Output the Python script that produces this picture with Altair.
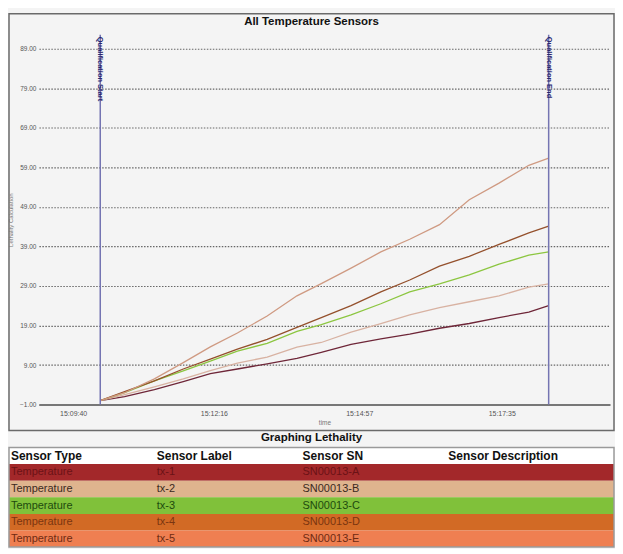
import altair as alt
import pandas as pd

# ---------------- data ----------------
times = [54610, 54637, 54670, 54702, 54732, 54762, 54795, 54828, 54855,
         54888, 54921, 54953, 54986, 55019, 55052, 55085, 55107]
tx1 = [0, 1.0, 2.8, 4.8, 6.8, 8.0, 9.3, 10.7, 12.2, 14.2, 15.6, 16.8, 18.3, 19.5, 21.0, 22.4, 24.0]
tx2 = [0, 1.5, 3.5, 5.5, 7.6, 9.5, 11.0, 13.5, 14.7, 17.3, 19.5, 21.7, 23.5, 25.0, 26.5, 28.7, 29.5]
tx3 = [0, 2.0, 5.0, 7.5, 10.0, 12.5, 14.5, 17.5, 19.2, 21.7, 24.5, 27.5, 29.5, 31.8, 34.5, 36.8, 37.6]
tx4 = [0, 2.3, 5.0, 8.0, 10.5, 13.0, 15.5, 18.5, 21.0, 24.0, 27.5, 30.5, 34.0, 36.5, 39.5, 42.4, 44.1]
tx5 = [0, 2.0, 5.5, 9.6, 13.6, 17.1, 21.4, 26.5, 29.6, 33.5, 37.6, 40.8, 44.5, 50.8, 55.0, 59.5, 61.3]

sensor_labels = ["tx-1", "tx-2", "tx-3", "tx-4", "tx-5"]
sensor_types = ["Temperature"] * 5
sensor_sns = ["SN00013-A", "SN00013-B", "SN00013-C", "SN00013-D", "SN00013-E"]
sensor_desc = ["", "", "", "", ""]
header_cols = ["Sensor Type", "Sensor Label", "Sensor SN", "Sensor Description"]

line_colors = ["#6e2638", "#d8b2a2", "#8cc640", "#94502c", "#cf9a82"]
row_colors = ["#a3282a", "#dfb48e", "#80c13a", "#d26a25", "#ef7f51"]
row_text_colors = ["#6b1216", "#3a2a1e", "#1e4a0e", "#7a3510", "#6e2a12"]

y_ticks = [-1, 9, 19, 29, 39, 49, 59, 69, 79, 89]
x_ticks = [54580, 54736, 54897, 55055]  # 15:09:40, 15:12:16, 15:14:57, 15:17:35
qual_times = [54610, 55107]
qual_labels = ["Qualification Start", "Qualification End"]

series = dict(zip(sensor_labels, [tx1, tx2, tx3, tx4, tx5]))
long_rows = []
for lab in sensor_labels:
    for t, v in zip(times, series[lab]):
        long_rows.append({"sensor": lab, "t": t, "v": v})
df = pd.DataFrame(long_rows)
qual_df = pd.DataFrame({"t": qual_times, "label": qual_labels})

# table cells (row index, column index)
row_ids = ["header"] + sensor_labels
cells = []
for c, h in enumerate(header_cols):
    cells.append({"row": "header", "ri": 0, "ci": c, "text": h, "kind": "header"})
for i, lab in enumerate(sensor_labels):
    vals = [sensor_types[i], lab, sensor_sns[i], sensor_desc[i]]
    for c, v in enumerate(vals):
        cells.append({"row": lab, "ri": i + 1, "ci": c, "text": v, "kind": "body"})
cells_df = pd.DataFrame(cells)
rows_df = pd.DataFrame({"row": row_ids, "ri": list(range(len(row_ids)))})

# ---------------- layout ----------------
W, H = 573, 371
FONT = "Liberation Sans"
FL, FR, FT, FB = -30, W + 4, -21, H + 26   # outer frame around the plot
TT, TB = 414, 514                          # table top / bottom
TSPAN = 4.15                               # table column span on its scale

x_scale = alt.Scale(domain=[54542, 55175], nice=False, zero=False)
y_scale = alt.Scale(domain=[-1, 92.5], nice=False, zero=False)

lines = alt.Chart(df).mark_line(strokeWidth=1.3).encode(
    x=alt.X("t:Q", scale=x_scale,
            axis=alt.Axis(values=x_ticks,
                          labelExpr="utcFormat(datum.value*1000, '%H:%M:%S')",
                          title="time", grid=False, ticks=False,
                          domainColor="#777", domainWidth=2,
                          labelFontSize=7, labelColor="#555", labelPadding=5,
                          titleFontSize=6.5, titleColor="#777", titlePadding=3,
                          titleFontWeight="normal", labelFont=FONT, titleFont=FONT)),
    y=alt.Y("v:Q", scale=y_scale,
            axis=alt.Axis(values=y_ticks, format=".2f",
                          title="Lethality Calculation", grid=True,
                          gridDash=[1.5, 1.5], gridColor="#666", gridWidth=1.2,
                          domain=False, ticks=False,
                          labelFontSize=6.5, labelColor="#555", labelPadding=3,
                          titleFontSize=6, titleColor="#777", titleFontWeight="normal",
                          titleX=-25, titleY=H / 2, titleAngle=-90,
                          labelFont=FONT, titleFont=FONT)),
    color=alt.Color("sensor:N", scale=alt.Scale(domain=sensor_labels, range=line_colors),
                    legend=None),
)

one = pd.DataFrame({"a": [0]})
frame = alt.Chart(one).mark_rect(
    fillOpacity=0, stroke="#6a6a6a", strokeWidth=1.5
).encode(x=alt.value(FL), x2=alt.value(FR), y=alt.value(FT), y2=alt.value(FB))

title_txt = alt.Chart(one).mark_text(
    text="All Temperature Sensors", fontSize=11.5, fontWeight="bold", font=FONT,
    color="#111", baseline="middle", align="center"
).encode(x=alt.value((FL + FR) / 2), y=alt.value(-13))

rules = alt.Chart(qual_df).mark_rule(color="#7474b2", strokeWidth=1.5).encode(
    x=alt.X("t:Q", scale=x_scale, axis=None)
)
rule_txt = alt.Chart(qual_df).mark_text(
    angle=90, align="left", baseline="middle", fontSize=7.5, fontWeight="bold",
    color="#26266e", font=FONT
).encode(x=alt.X("t:Q", scale=x_scale, axis=None), y=alt.value(2), text="label:N")

# ---------------- table ----------------
tx_scale = alt.Scale(domain=[0, TSPAN], range=[FL, FR], nice=False, zero=False)
ty_scale = alt.Scale(domain=[0, 6], range=[TT, TB], nice=False, zero=False)

row_rects = alt.Chart(rows_df).transform_calculate(
    x0="0", x1=str(TSPAN), ri2="datum.ri + 1"
).mark_rect(strokeWidth=0).encode(
    x=alt.X("x0:Q", scale=tx_scale, axis=None), x2="x1:Q",
    y=alt.Y("ri:Q", scale=ty_scale, axis=None), y2="ri2:Q",
    color=alt.Color("row:N", scale=alt.Scale(domain=row_ids, range=["#ffffff"] + row_colors),
                    legend=None),
)
table_border = alt.Chart(one).mark_rect(
    fillOpacity=0, stroke="#9a9a9a", strokeWidth=1.5
).encode(x=alt.value(FL), x2=alt.value(FR), y=alt.value(TT), y2=alt.value(TB))

head_txt = alt.Chart(cells_df).transform_filter(alt.datum.kind == "header").transform_calculate(
    rm="datum.ri + 0.5"
).mark_text(
    align="left", baseline="middle", fontSize=12, fontWeight="bold", font=FONT,
    color="#111", dx=2
).encode(
    x=alt.X("ci:Q", scale=tx_scale, axis=None),
    y=alt.Y("rm:Q", scale=ty_scale, axis=None),
    text="text:N",
)
body_txt = alt.Chart(cells_df).transform_filter(alt.datum.kind == "body").transform_calculate(
    rm="datum.ri + 0.5"
).mark_text(
    align="left", baseline="middle", fontSize=11, font=FONT, dx=2
).encode(
    x=alt.X("ci:Q", scale=tx_scale, axis=None),
    y=alt.Y("rm:Q", scale=ty_scale, axis=None),
    text="text:N",
    color=alt.Color("row:N", scale=alt.Scale(domain=row_ids, range=["#111"] + row_text_colors),
                    legend=None),
)
table_title = alt.Chart(one).mark_text(
    text="Graphing Lethality", fontSize=11.5, fontWeight="bold", font=FONT,
    color="#111", baseline="middle", align="center"
).encode(x=alt.value((FL + FR) / 2), y=alt.value(TT - 9))

chart = alt.layer(
    frame, title_txt, lines, rules, rule_txt,
    row_rects, table_border, head_txt, body_txt, table_title
).resolve_scale(
    x="independent", y="independent", color="independent"
).properties(
    width=W, height=H,
    padding={"left": 0, "top": 4, "right": 0, "bottom": 0},
    background="#f4f4f4",
).configure_view(stroke="transparent")

chart.save("out.html", embed_options={"renderer": "svg", "actions": False})
